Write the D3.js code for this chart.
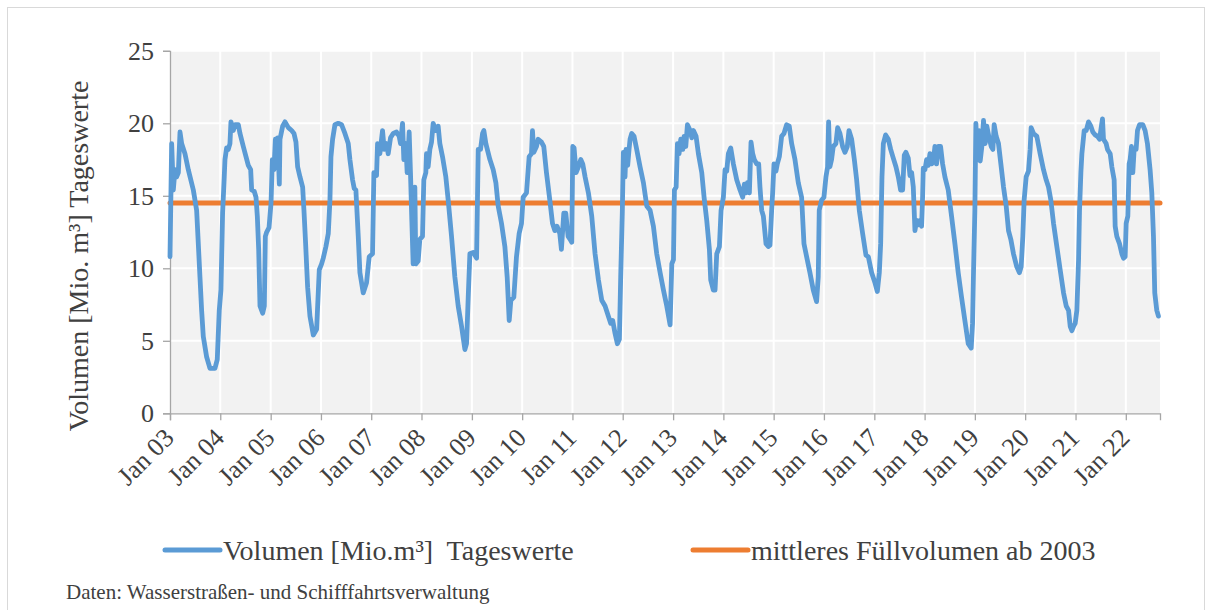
<!DOCTYPE html>
<html>
<head>
<meta charset="utf-8">
<script src="https://cdn.jsdelivr.net/npm/d3@7"></script>
<style>
  body { margin: 0; background: #fff; }
  svg text { font-family: "Liberation Serif", "Times New Roman", serif; fill: #404040; }
</style>
</head>
<body>
<script>
var volYears = [
  2003.000,2003.033,2003.066,2003.099,2003.132,2003.166,2003.199,2003.232,2003.298,2003.364,2003.464,2003.530,2003.563,2003.596,2003.629,2003.662,2003.728,2003.795,2003.894,2003.940,2003.980,
  2004.013,2004.033,2004.046,2004.079,2004.093,2004.126,2004.159,2004.192,2004.212,2004.258,2004.291,2004.358,2004.391,2004.457,2004.510,2004.556,2004.603,2004.623,2004.675,2004.709,2004.735,2004.762,2004.788,2004.841,2004.874,2004.894,2004.921,2004.967,
  2005.007,2005.033,2005.066,2005.093,2005.119,2005.139,2005.172,2005.185,2005.238,2005.285,2005.351,2005.417,2005.464,2005.503,2005.536,2005.583,2005.636,2005.662,2005.695,2005.735,2005.781,2005.848,2005.914,2005.967,
  2006.013,2006.046,2006.099,2006.146,2006.179,2006.199,2006.232,2006.278,2006.344,2006.411,2006.477,2006.543,2006.576,2006.629,2006.662,2006.695,2006.742,2006.775,2006.841,2006.907,2006.960,
  2007.026,2007.053,2007.106,2007.126,2007.172,2007.225,2007.258,2007.305,2007.338,2007.384,2007.437,2007.503,2007.556,2007.583,2007.623,2007.649,2007.689,2007.715,2007.755,2007.781,2007.808,2007.834,2007.868,2007.887,2007.934,2007.967,
  2008.020,2008.046,2008.086,2008.099,2008.132,2008.166,2008.199,2008.232,2008.285,2008.331,2008.364,2008.417,2008.483,2008.530,2008.596,2008.662,2008.728,2008.795,2008.861,2008.894,2008.927,2008.960,
  2009.026,2009.093,2009.126,2009.172,2009.212,2009.238,2009.278,2009.358,2009.424,2009.477,2009.523,2009.589,2009.656,2009.702,2009.742,2009.775,2009.834,2009.887,2009.940,2009.987,
  2010.020,2010.086,2010.139,2010.185,2010.205,2010.232,2010.285,2010.318,2010.384,2010.430,2010.483,2010.550,2010.603,2010.649,2010.695,2010.748,2010.781,2010.828,2010.868,2010.914,2010.954,2010.987,
  2011.007,2011.033,2011.073,2011.119,2011.166,2011.205,2011.252,2011.318,2011.384,2011.450,2011.517,2011.583,2011.649,2011.715,2011.762,2011.801,2011.848,2011.894,2011.934,2011.960,2011.993,
  2012.013,2012.046,2012.066,2012.099,2012.126,2012.146,2012.179,2012.225,2012.278,2012.344,2012.411,2012.477,2012.543,2012.609,2012.675,2012.742,2012.808,2012.874,2012.940,2012.974,
  2013.007,2013.026,2013.060,2013.086,2013.119,2013.152,2013.192,2013.219,2013.252,2013.285,2013.338,2013.371,2013.404,2013.457,2013.503,2013.570,2013.616,2013.669,2013.722,2013.748,2013.801,2013.834,2013.868,2013.921,2013.954,
  2014.000,2014.033,2014.066,2014.099,2014.146,2014.199,2014.265,2014.331,2014.384,2014.417,2014.450,2014.477,2014.517,2014.550,2014.583,2014.616,2014.662,2014.702,2014.728,2014.762,2014.795,2014.848,2014.894,2014.927,2014.960,2014.980,
  2015.007,2015.046,2015.073,2015.113,2015.159,2015.205,2015.258,2015.311,2015.358,2015.424,2015.490,2015.556,2015.603,2015.656,2015.722,2015.788,2015.854,2015.887,2015.907,2015.954,
  2016.000,2016.040,2016.073,2016.093,2016.119,2016.152,2016.185,2016.238,2016.272,2016.318,2016.371,2016.417,2016.464,2016.497,2016.550,2016.603,2016.649,2016.702,2016.768,2016.834,2016.881,2016.947,
  2017.013,2017.060,2017.099,2017.126,2017.152,2017.179,2017.225,2017.278,2017.325,2017.377,2017.430,2017.477,2017.523,2017.563,2017.596,2017.629,2017.675,2017.709,2017.742,2017.775,2017.808,2017.841,2017.874,2017.907,2017.940,2017.960,2017.974,
  2018.007,2018.040,2018.073,2018.106,2018.139,2018.172,2018.205,2018.238,2018.272,2018.318,2018.358,2018.404,2018.470,2018.536,2018.603,2018.669,2018.735,2018.801,2018.868,2018.927,2018.954,2018.974,
  2019.000,2019.020,2019.053,2019.086,2019.106,2019.139,2019.172,2019.205,2019.238,2019.278,2019.325,2019.358,2019.384,2019.424,2019.470,2019.517,2019.570,2019.623,2019.669,2019.715,2019.768,2019.834,2019.887,2019.921,2019.954,2019.980,
  2020.020,2020.066,2020.099,2020.119,2020.166,2020.232,2020.298,2020.364,2020.417,2020.464,2020.510,2020.563,2020.629,2020.695,2020.762,2020.815,2020.861,2020.894,2020.927,2020.960,2020.993,
  2021.026,2021.060,2021.079,2021.106,2021.126,2021.172,2021.212,2021.258,2021.305,2021.344,2021.391,2021.437,2021.477,2021.510,2021.536,2021.556,2021.609,2021.636,2021.689,2021.722,2021.768,2021.788,2021.821,2021.874,2021.921,2021.954,2021.987,
  2022.007,2022.040,2022.066,2022.086,2022.113,2022.139,2022.166,2022.205,2022.232,2022.272,2022.338,2022.384,2022.430,2022.483,2022.517,2022.550,2022.576,2022.616,2022.649
];
var volValues = [
  10.8,18.6,15.4,16.8,16.3,16.6,19.4,18.6,17.9,16.8,15.4,14.0,11.7,9.4,7.1,5.3,3.9,3.1,3.1,3.7,7.1,
  8.5,11.7,13.8,16.3,17.5,18.3,18.2,18.6,20.1,19.5,19.9,19.9,19.3,18.4,17.7,17.1,16.8,15.4,15.3,14.9,13.6,11.3,7.4,6.9,7.4,12.2,12.5,12.8,
  14.5,17.5,16.8,18.9,17.7,19.0,15.8,18.9,19.8,20.1,19.7,19.5,19.3,18.7,17.0,16.3,15.6,14.0,11.7,8.7,6.7,5.4,5.8,9.9,
  10.3,10.7,11.5,12.4,14.7,17.7,18.9,19.9,20.0,19.9,19.3,18.6,17.5,16.1,15.5,15.4,12.2,9.7,8.3,9.0,10.8,
  11.0,16.6,16.4,18.6,17.9,19.5,18.2,18.6,17.9,19.0,19.3,19.4,19.1,18.6,20.0,17.5,18.6,16.6,19.4,16.6,13.3,10.3,15.6,10.3,10.5,12.0,
  12.2,16.1,16.6,17.9,17.0,18.2,18.7,20.0,19.5,19.8,18.6,17.7,16.3,14.7,12.2,9.4,7.4,6.0,4.4,4.8,8.0,11.0,
  11.1,10.7,18.2,18.2,19.3,19.5,18.6,17.5,16.8,15.9,14.3,13.1,11.5,9.4,6.4,7.8,8.0,10.8,12.4,13.1,
  14.9,15.2,17.7,17.9,19.5,18.0,18.4,18.9,18.7,18.4,16.6,14.7,13.1,12.6,12.9,12.4,11.3,13.8,13.8,12.2,12.0,11.8,
  18.4,18.3,16.6,17.0,17.5,17.2,16.3,15.2,13.6,11.0,9.2,7.8,7.4,6.7,6.2,6.4,5.5,4.8,5.1,9.4,14.0,
  18.0,16.3,18.2,17.1,18.2,18.9,19.3,19.1,18.2,17.0,15.9,14.3,14.0,12.9,11.0,9.7,8.5,7.4,6.1,10.3,
  10.6,15.4,15.6,18.6,17.9,18.9,18.2,19.1,18.4,19.9,19.5,19.0,19.5,19.1,17.9,16.6,14.9,13.3,11.3,9.2,8.5,8.5,11.0,11.5,14.0,
  14.9,16.8,16.7,17.9,18.3,17.2,16.1,15.4,14.9,15.8,15.2,15.9,15.2,18.7,17.9,17.5,17.2,17.2,15.6,14.0,13.6,11.7,11.5,11.6,14.0,15.2,
  17.2,16.7,17.2,17.7,19.1,19.3,19.9,19.8,18.6,17.5,15.9,14.9,11.7,10.8,9.7,8.5,7.7,9.4,14.0,14.7,
  14.9,16.3,17.0,20.1,17.0,17.5,18.4,18.6,19.7,19.3,18.4,18.0,18.4,19.5,18.9,17.5,16.1,14.0,12.4,10.9,10.8,9.7,
  9.0,8.4,9.7,11.7,16.3,18.6,19.2,18.9,18.2,17.6,17.0,16.3,15.4,15.4,17.8,18.0,17.6,16.4,16.6,15.6,12.6,13.3,13.0,13.3,12.9,14.9,16.9,
  16.8,17.5,17.1,17.9,17.2,17.3,18.4,17.2,18.4,18.4,17.2,16.3,15.4,13.6,11.7,9.7,8.0,6.4,4.8,4.5,6.2,9.9,
  14.0,20.0,17.5,19.5,17.4,18.4,20.2,18.6,19.8,19.1,18.4,18.2,19.9,19.1,18.6,17.2,15.6,14.3,12.6,12.0,11.0,10.1,9.7,10.1,12.2,14.7,
  16.3,16.7,18.2,19.7,19.3,19.1,17.9,16.8,16.1,15.6,14.7,13.1,11.5,9.9,8.3,7.4,7.1,6.0,5.7,6.0,6.2,
  7.1,10.6,14.0,16.6,17.9,19.5,19.5,20.1,19.8,19.4,19.2,19.1,18.9,19.7,20.3,18.9,18.6,18.2,17.9,17.0,16.1,12.9,12.2,11.7,11.0,10.7,10.8,
  13.1,13.6,17.2,17.5,18.4,16.6,18.2,18.2,19.5,19.9,19.9,19.5,18.6,16.8,15.2,12.2,8.3,7.1,6.7
];
var meanVolume = 14.5;           // mittleres Füllvolumen ab 2003
var yTicks = [0, 5, 10, 15, 20, 25];
var firstYear = 2003, lastYear = 2022.68;

var seriesNames = ["Volumen [Mio.m³]  Tageswerte", "mittleres Füllvolumen ab 2003"];
var blue = "#5b9bd5", orange = "#ed7d31";

function decToDate(v) {   // decimal year -> Date
  var yr = Math.floor(v);
  var a = new Date(yr, 0, 1), b = new Date(yr + 1, 0, 1);
  return new Date(+a + (v - yr) * (b - a));
}

var data = volYears.map(function(d, i) { return { date: decToDate(d), v: volValues[i] }; });

var svg = d3.select("body").append("svg").attr("width", 1212).attr("height", 610);

// outer frame
svg.append("rect").attr("x", 7.5).attr("y", 7.5).attr("width", 1197).attr("height", 620)
  .attr("fill", "none").attr("stroke", "#d9d9d9").attr("stroke-width", 1);

var x = d3.scaleTime().domain([decToDate(firstYear), decToDate(lastYear)]).range([170, 1160]);
var y = d3.scaleLinear().domain([0, 25]).range([413.3, 50.8]);
var yearTicks = d3.timeYear.range(decToDate(firstYear), decToDate(lastYear));

// plot background
svg.append("rect").attr("x", x.range()[0]).attr("y", y(25))
  .attr("width", x.range()[1] - x.range()[0]).attr("height", y(0) - y(25))
  .attr("fill", "#f2f2f2");

// gridlines
svg.append("g").selectAll("line").data(yTicks.slice(1)).enter().append("line")
  .attr("x1", x.range()[0]).attr("x2", x.range()[1])
  .attr("y1", function(d) { return y(d); }).attr("y2", function(d) { return y(d); })
  .attr("stroke", "#fff").attr("stroke-width", 2);
svg.append("g").selectAll("line").data(yearTicks.slice(1)).enter().append("line")
  .attr("x1", function(d) { return x(d); }).attr("x2", function(d) { return x(d); })
  .attr("y1", y(25)).attr("y2", y(0))
  .attr("stroke", "#fff").attr("stroke-width", 2);

// axes
var yAxis = svg.append("g").attr("transform", "translate(170,0)")
  .call(d3.axisLeft(y).tickValues(yTicks).tickSize(7).tickPadding(9));
var xAxis = svg.append("g").attr("transform", "translate(0," + y(0) + ")")
  .call(d3.axisBottom(x).tickValues(yearTicks).tickSize(7).tickFormat(d3.timeFormat("Jan %y")));

[yAxis, xAxis].forEach(function(a) {
  a.select(".domain").attr("stroke", "#a6a6a6").attr("stroke-width", 1.3);
  a.selectAll(".tick line").attr("stroke", "#a6a6a6").attr("stroke-width", 1.3);
  a.selectAll("text").attr("font-size", 26).attr("fill", "#404040")
    .attr("font-family", "'Liberation Serif', 'Times New Roman', serif");
});
xAxis.selectAll("text")
  .attr("y", 0).attr("dy", 0).attr("x", 0)
  .attr("text-anchor", "end")
  .attr("transform", "translate(5,26) rotate(-45)");

// mean line
svg.append("line")
  .attr("x1", x.range()[0]).attr("x2", x.range()[1])
  .attr("y1", y(meanVolume)).attr("y2", y(meanVolume))
  .attr("stroke", orange).attr("stroke-width", 5).attr("stroke-linecap", "round");

// daily volume line
var line = d3.line().x(function(d) { return x(d.date); }).y(function(d) { return y(d.v); });
svg.append("path").datum(data)
  .attr("d", line)
  .attr("fill", "none").attr("stroke", blue).attr("stroke-width", 4.8)
  .attr("stroke-linejoin", "round").attr("stroke-linecap", "round");

// y axis title
svg.append("text")
  .attr("transform", "translate(88,256) rotate(-90)")
  .attr("text-anchor", "middle").attr("font-size", 28)
  .text("Volumen [Mio. m³] Tageswerte");

// legend
var legend = [
  { name: seriesNames[0], color: blue, x: 165 },
  { name: seriesNames[1], color: orange, x: 693 }
];
var lg = svg.append("g").selectAll("g").data(legend).enter().append("g")
  .attr("transform", function(d) { return "translate(" + d.x + ",550)"; });
lg.append("line").attr("x1", 0).attr("x2", 55).attr("y1", 0).attr("y2", 0)
  .attr("stroke", function(d) { return d.color; }).attr("stroke-width", 5).attr("stroke-linecap", "round");
lg.append("text").attr("x", 58).attr("y", 10).attr("font-size", 28)
  .style("white-space", "pre")
  .text(function(d) { return d.name; });

// source
svg.append("text").attr("x", 66).attr("y", 599).attr("font-size", 21)
  .text("Daten: Wasserstraßen- und Schifffahrtsverwaltung");
</script>
</body>
</html>
